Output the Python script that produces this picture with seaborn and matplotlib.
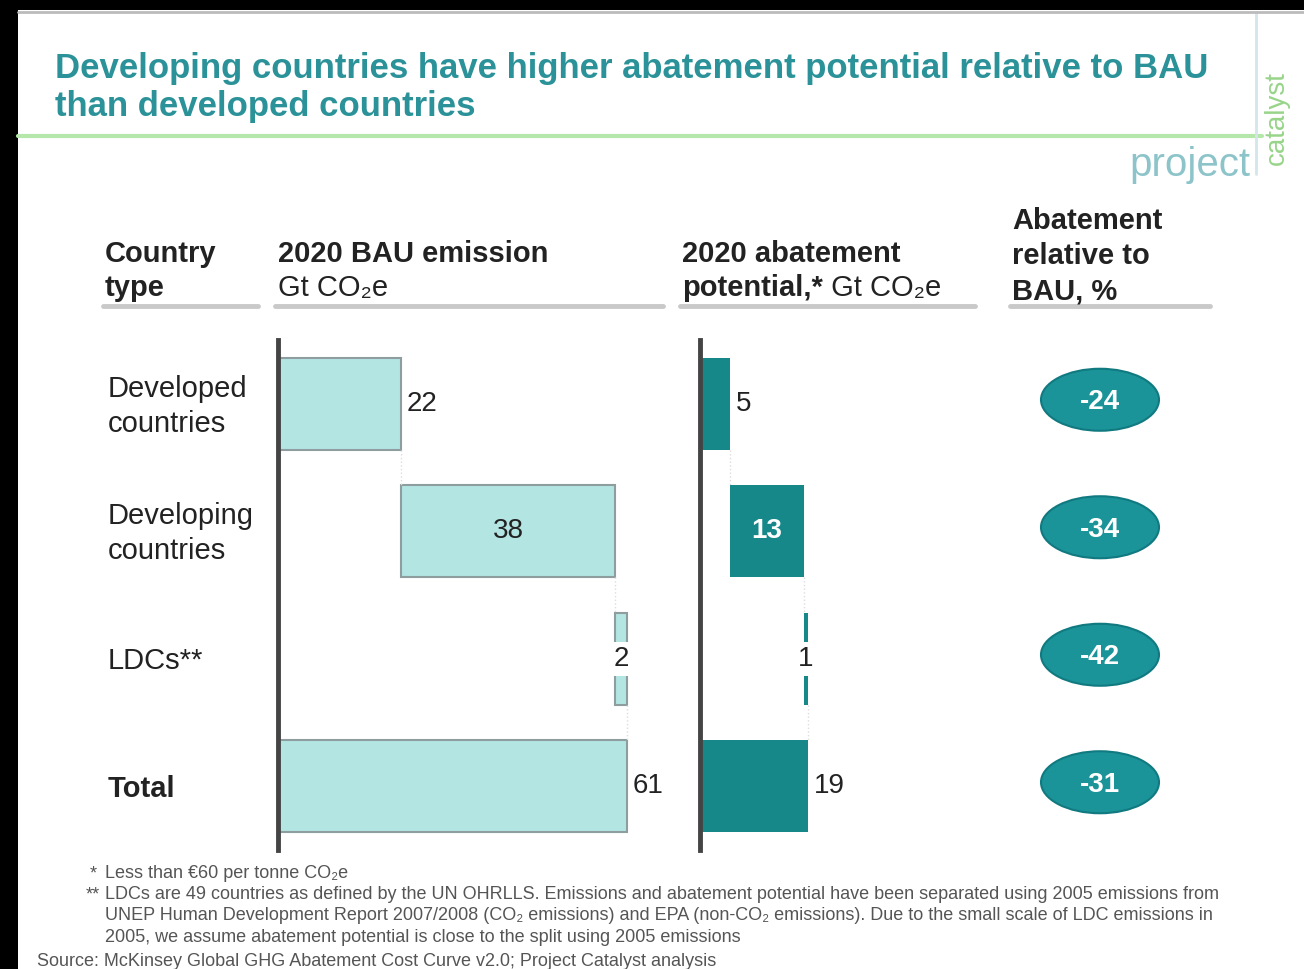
import matplotlib
matplotlib.use("Agg")
import matplotlib.pyplot as plt
import matplotlib.transforms as mtransforms
from matplotlib.patches import Ellipse, Rectangle
from matplotlib.lines import Line2D
import seaborn as sns

# data
categories = ["Developed\ncountries", "Developing\ncountries", "LDCs**", "Total"]
bau = [21.5, 37.5, 2.0]
bau_total = 61.0
abatement = [5.2, 12.9, 0.8]
abatement_total = 18.9
pct = [-24, -34, -42, -31]
bau_label_pos = ["out", "in", "mid", "out"]
abate_label_pos = ["out", "in", "mid", "out"]

light = "#b3e5e3"
light_edge = "#8e9e9e"
dark = "#16888a"
teal = "#1a9499"
title_col = "#2a9298"

sns.set_theme(style="white")
plt.rcParams['font.family'] = ['Liberation Sans', 'DejaVu Sans']

W, H = 1304, 969
fig = plt.figure(figsize=(W / 100, H / 100), dpi=100)
fig.patch.set_facecolor("white")


def fx(px):
    return px / W


def fy(py):
    return 1 - py / H


SCALE = 5.72  # px per Gt
TOP, BOT = 340, 850
rows = list(range(len(categories)))
vs = 20  # value label size


def waterfall(ax, parts, total, color, edge, lab_pos, in_col):
    vals = parts + [total]
    lefts = []
    acc = 0
    for v in parts:
        lefts.append(acc)
        acc += v
    lefts.append(0)
    ax.barh(rows, vals, left=lefts, height=0.72, color=color,
            edgecolor=edge, linewidth=1.5 if edge != "none" else 0)
    # connectors
    for i in range(len(parts)):
        x = lefts[i] + vals[i]
        ax.plot([x, x], [i + 0.36, i + 0.64], color="#dddddd", lw=1, ls=":")
    for i, (l, v, p) in enumerate(zip(lefts, vals, lab_pos)):
        txt = f"{v:.0f}"
        if p == "out":
            ax.text(l + v + 1.0, i, txt, va="center", ha="left", fontsize=vs, color="#222222")
        elif p == "in":
            ax.text(l + v / 2, i, txt, va="center", ha="center", fontsize=vs,
                    color=in_col, fontweight="bold" if in_col == "white" else "normal")
        else:
            ax.text(l + v / 2, i, txt, va="center", ha="center", fontsize=vs, color="#222222",
                    bbox=dict(boxstyle="square,pad=0.15", fc="white", ec="none"))
    ax.set_ylim(len(categories) - 0.5, -0.5)
    ax.set_yticks([])
    ax.set_xticks([])
    sns.despine(ax=ax, top=True, right=True, bottom=True, left=False)
    ax.spines["left"].set_color("#444444")
    ax.spines["left"].set_linewidth(3.5)
    ax.patch.set_alpha(0)


ax1 = fig.add_axes([fx(278), fy(BOT), (662 - 278) / W, (BOT - TOP) / H])
ax1.set_xlim(0, (662 - 278) / SCALE)
waterfall(ax1, bau, bau_total, light, light_edge, bau_label_pos, "#222222")

ax2 = fig.add_axes([fx(700), fy(BOT), (975 - 700) / W, (BOT - TOP) / H])
ax2.set_xlim(0, (975 - 700) / SCALE)
waterfall(ax2, abatement, abatement_total, dark, "none", abate_label_pos, "white")

# ellipses with % abatement
ax3 = fig.add_axes([fx(1000), fy(BOT - 4), 200 / W, (BOT - TOP) / H])
ax3.set_xlim(0, 200)
ax3.set_ylim(len(categories) - 0.5, -0.5)
ax3.axis("off")
for i, p in enumerate(pct):
    ax3.add_patch(Ellipse((100, i), 118, 62 / 127.5, fc=teal, ec="#107a80", lw=1.5))
    ax3.text(100, i + 0.02, f"{p}", ha="center", va="center", fontsize=20,
             fontweight="bold", color="white")

# row labels
tr = mtransforms.blended_transform_factory(fig.transFigure, ax1.transData)
for i, c in enumerate(categories):
    ax1.text(fx(108), i + 0.02, c, transform=tr, ha="left", va="center", fontsize=21,
             color="#222222", linespacing=1.3,
             fontweight="bold" if c == "Total" else "normal", clip_on=False)

# column headers
hs = 21
fig.text(fx(105), fy(262), "Country", fontsize=hs, fontweight="bold", color="#222222")
fig.text(fx(105), fy(296), "type", fontsize=hs, fontweight="bold", color="#222222")
fig.text(fx(278), fy(262), "2020 BAU emission", fontsize=hs, fontweight="bold", color="#222222")
fig.text(fx(278), fy(296), "Gt CO\u2082e", fontsize=hs, color="#222222")
fig.text(fx(682), fy(262), "2020 abatement", fontsize=hs, fontweight="bold", color="#222222")
t = fig.text(fx(682), fy(296), "potential,*", fontsize=hs, fontweight="bold", color="#222222")
plt.annotate(" Gt CO\u2082e", xy=(1, 0), xycoords=t, fontsize=hs, color="#222222",
             va="bottom", ha="left", annotation_clip=False)
fig.text(fx(1012), fy(229), "Abatement", fontsize=hs, fontweight="bold", color="#222222")
fig.text(fx(1012), fy(264), "relative to", fontsize=hs, fontweight="bold", color="#222222")
fig.text(fx(1012), fy(299), "BAU, %", fontsize=hs, fontweight="bold", color="#222222")
for x0, x1 in [(103, 258), (275, 663), (680, 975), (1010, 1210)]:
    fig.add_artist(Line2D([fx(x0), fx(x1)], [fy(306), fy(306)], color="#c9c9c9", lw=3.5))

# title
fig.text(fx(55), fy(78), "Developing countries have higher abatement potential relative to BAU",
         fontsize=25, fontweight="bold", color=title_col)
fig.text(fx(55), fy(116), "than developed countries", fontsize=25, fontweight="bold", color=title_col)
fig.add_artist(Line2D([fx(18), fx(1262)], [fy(136), fy(136)], color="#b6e7aa", lw=3))

# logo
fig.add_artist(Line2D([fx(1256), fx(1256)], [fy(12), fy(174)], color="#d3e6ea", lw=2))
fig.text(fx(1129), fy(176), "project", fontsize=29, color="#8cc4ca")
fig.text(fx(1277), fy(118), "catalyst", fontsize=20, color="#98d48a", rotation=90,
         ha="center", va="center")

# black frame
fig.add_artist(Rectangle((0, 0), fx(18), 1, transform=fig.transFigure, fc="black", ec="none"))
fig.add_artist(Rectangle((0, fy(10)), 1, 10 / H, transform=fig.transFigure, fc="black", ec="none"))
fig.add_artist(Line2D([fx(18), 1], [fy(12), fy(12)], color="#bbbbbb", lw=2))

# footnotes
fs = 13
fc = "#555555"
fig.text(fx(90), fy(878), "*", fontsize=fs, color=fc)
fig.text(fx(105), fy(878), "Less than \u20ac60 per tonne CO\u2082e", fontsize=fs, color=fc)
fig.text(fx(86), fy(899), "**", fontsize=fs, color=fc)
notes = ["LDCs are 49 countries as defined by the UN OHRLLS. Emissions and abatement potential have been separated using 2005 emissions from",
         "UNEP Human Development Report 2007/2008 (CO\u2082 emissions) and EPA (non-CO\u2082 emissions). Due to the small scale of LDC emissions in",
         "2005, we assume abatement potential is close to the split using 2005 emissions"]
for k, line in enumerate(notes):
    fig.text(fx(105), fy(899 + 21.5 * k), line, fontsize=fs, color=fc)
fig.text(fx(37), fy(966), "Source: McKinsey Global GHG Abatement Cost Curve v2.0; Project Catalyst analysis",
         fontsize=fs, color=fc)

fig.savefig("out.png", dpi=100)
